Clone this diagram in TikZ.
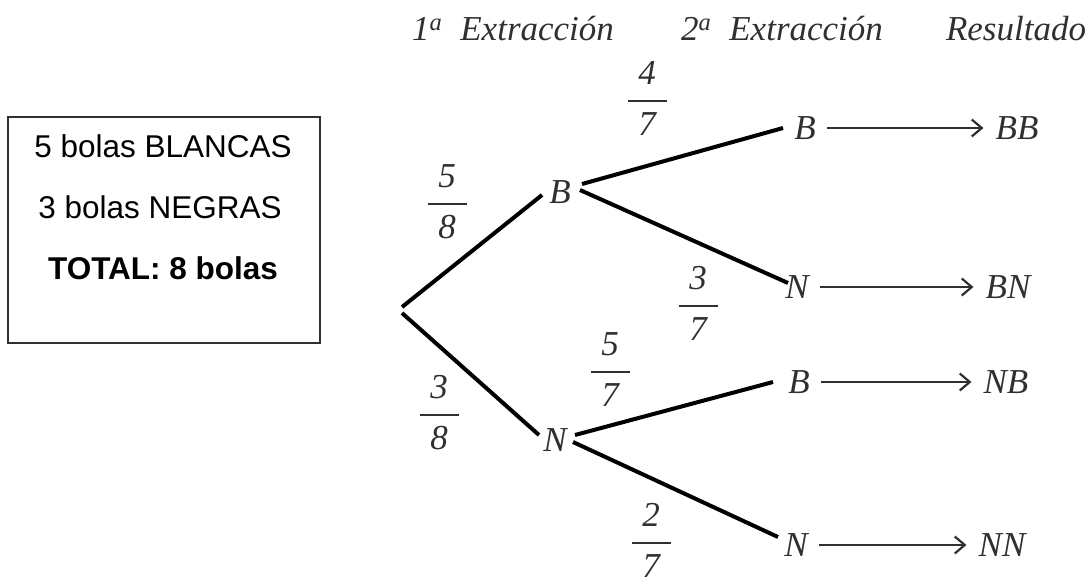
\documentclass[tikz,border=0pt]{standalone}
\usepackage{fontspec}
\setmainfont{Liberation Serif}
\newfontfamily\arialf{Liberation Sans}
\usetikzlibrary{arrows.meta}
\definecolor{ink}{HTML}{303030}
\newcommand\frc[5]{%
  \coordinate (#1) at (#2,#3);
  \node[tr] (#1n) at ([yshift=28pt]#1) {#4};
  \node[tr] (#1d) at ([yshift=-23pt]#1) {#5};
  \draw[fbar] ([xshift=-19.5pt]#1) -- ([xshift=19.5pt]#1);
}
\begin{document}
\begin{tikzpicture}[x=1pt,y=-1pt,
  tr/.style={font=\fontsize{35}{40}\selectfont\itshape, text=ink, inner sep=0pt},
  boxtxt/.style={font=\arialf\fontsize{31.5}{36}\selectfont, text=black, inner sep=0pt},
  branch/.style={line width=4pt, black},
  res/.style={draw=ink, line width=2.2pt, -{Straight Barb[length=10pt,width=17pt]}, shorten <=11pt, shorten >=12pt},
  fbar/.style={line width=2pt, ink},
  framebox/.style={draw=ink, line width=1.6pt, minimum width=312pt, minimum height=226pt, inner sep=0pt}
]
\useasboundingbox (0,0) rectangle (1092,579);

% info box
\node[framebox] (box) at (164,230) {};
\node[boxtxt] (t1) at (163,146) {5 bolas BLANCAS};
\node[boxtxt] (t2) at (160,207) {3 bolas NEGRAS};
\node[boxtxt] (t3) at (163,268) {\bfseries TOTAL: 8 bolas};

% headers
\node[tr, anchor=base] (h1) at (513,40) {1\textsuperscript{a}\hspace{18pt}Extracción};
\node[tr, anchor=base] (h2) at (782,40) {2\textsuperscript{a}\hspace{18pt}Extracción};
\node[tr, anchor=base] (h3) at (1016,40) {Resultado};

% tree nodes
\coordinate (root) at (401,310);
\node[tr] (B1) at (560,192) {B};
\node[tr] (N1) at (555,440) {N};
\node[tr] (B2) at (805,128) {B};
\node[tr] (N2) at (797,287) {N};
\node[tr] (B3) at (799,382) {B};
\node[tr] (N4) at (796,545) {N};
\node[tr] (BB) at (1017,128) {BB};
\node[tr] (BN) at (1008,287) {BN};
\node[tr] (NB) at (1006,382) {NB};
\node[tr] (NN) at (1002,545) {NN};

% branches
\draw[branch] ([shift={(1,-3)}]root) -- ([shift={(-18,3)}]B1.center);
\draw[branch] ([shift={(1,3)}]root) -- ([shift={(-16,-5)}]N1.center);
\draw[branch] ([shift={(22,-8)}]B1.center) -- ([shift={(-22,0)}]B2.center);
\draw[branch] ([shift={(20,-2)}]B1.center) -- ([shift={(-9,-4)}]N2.center);
\draw[branch] ([shift={(20,-5)}]N1.center) -- ([shift={(-26,0)}]B3.center);
\draw[branch] ([shift={(18,2)}]N1.center) -- ([shift={(-18,-8)}]N4.center);

% result arrows
\draw[res] (B2.east) -- (BB.west);
\draw[res] (N2.east) -- (BN.west);
\draw[res] (B3.east) -- (NB.west);
\draw[res] (N4.east) -- (NN.west);

% probabilities
\frc{f58}{447}{204}{5}{8}
\frc{f38}{439}{415}{3}{8}
\frc{f47}{647}{101}{4}{7}
\frc{f37}{698}{306}{3}{7}
\frc{f57}{610}{372}{5}{7}
\frc{f27}{651}{543}{2}{7}
\end{tikzpicture}
\end{document}
